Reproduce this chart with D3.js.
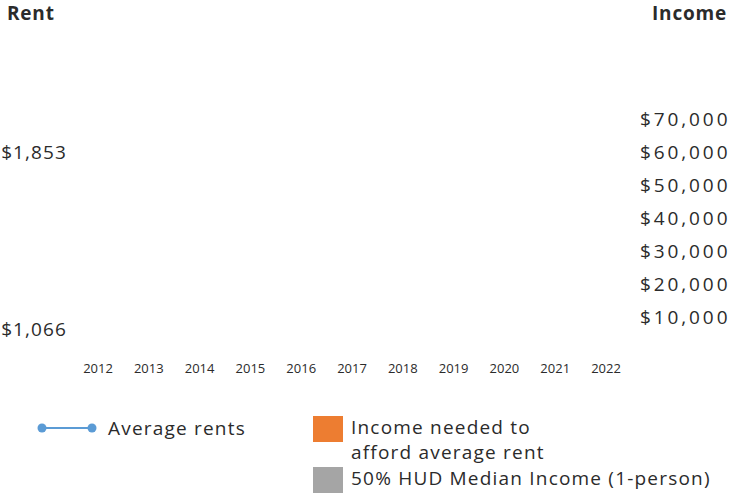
<!DOCTYPE html>
<html>
<head>
<meta charset="utf-8">
<script src="https://cdn.jsdelivr.net/npm/d3@7/dist/d3.min.js"></script>
<style>
  html, body { margin: 0; padding: 0; background: #fff; }
  svg { display: block; }
  text { font-family: "Open Sans", Lato, sans-serif; fill: #2b2b2b; }
</style>
</head>
<body>
<svg id="chart" width="729" height="498"></svg>
<script>
const years = [2012, 2013, 2014, 2015, 2016, 2017, 2018, 2019, 2020, 2021, 2022];
const incomeTicks = [10000, 20000, 30000, 40000, 50000, 60000, 70000];
const rentLabels = [1066, 1853];
const legendLine = ["Average rents"];
const legendBoxes = [
  { lines: ["Income needed to", "afford average rent"], color: "#ED7D31" },
  { lines: ["50% HUD Median Income (1-person)"], color: "#A5A5A5" }
];

const svg = d3.select("#chart");

const x = d3.scalePoint().domain(years).range([98, 606]);
const yIncome = d3.scaleLinear().domain([10000, 70000]).range([318, 120]);
const yRent = d3.scaleLinear().domain([1066, 1853]).range([330, 153]);

const fmt = d3.format("$,");

// Headers
svg.append("text").attr("x", 7).attr("y", 20)
  .style("font-size", "19px").style("font-weight", "bold").style("letter-spacing", "0.8px").text("Rent");
svg.append("text").attr("x", 727).attr("y", 20).attr("text-anchor", "end")
  .style("font-size", "19px").style("font-weight", "bold").style("letter-spacing", "0.8px").text("Income");

// Right income axis
const gR = svg.append("g").attr("transform", "translate(640,0)");
gR.selectAll("text").data(incomeTicks).join("text")
  .attr("x", 0).attr("y", d => yIncome(d))
  .attr("dy", "0.33em")
  .style("font-size", "19px").style("letter-spacing", "2.9px")
  .text(d => fmt(d));

// Left rent labels
svg.append("g").selectAll("text").data(rentLabels).join("text")
  .attr("x", 67).attr("y", d => yRent(d))
  .attr("dy", "0.33em").attr("text-anchor", "end")
  .style("font-size", "19px").style("letter-spacing", "1.1px")
  .text(d => fmt(d));

// Year axis
svg.append("g").selectAll("text").data(years).join("text")
  .attr("x", d => x(d)).attr("y", 368)
  .attr("dy", "0.35em").attr("text-anchor", "middle")
  .style("font-size", "13px")
  .text(d => d);

// Legend: line
const lg = svg.append("g");
lg.append("line").attr("x1", 42).attr("x2", 92).attr("y1", 428).attr("y2", 428)
  .attr("stroke", "#5B9BD5").attr("stroke-width", 2);
lg.selectAll("circle").data([42, 92]).join("circle")
  .attr("cx", d => d).attr("cy", 428).attr("r", 4.5).attr("fill", "#5B9BD5");
lg.append("text").attr("x", 108).attr("y", 428).attr("dy", "0.35em")
  .style("font-size", "19px").style("letter-spacing", "1.2px").text(legendLine[0]);

// Legend: boxes
const boxTops = [416, 467];
legendBoxes.forEach((b, i) => {
  lg.append("rect").attr("x", 313).attr("y", boxTops[i]).attr("width", 30).attr("height", 26)
    .attr("fill", b.color);
  b.lines.forEach((t, j) => {
    lg.append("text").attr("x", 351).attr("y", boxTops[i] + 11 + j * 25).attr("dy", "0.35em")
      .style("font-size", "19px").style("letter-spacing", "1.2px").text(t);
  });
});
</script>
</body>
</html>
